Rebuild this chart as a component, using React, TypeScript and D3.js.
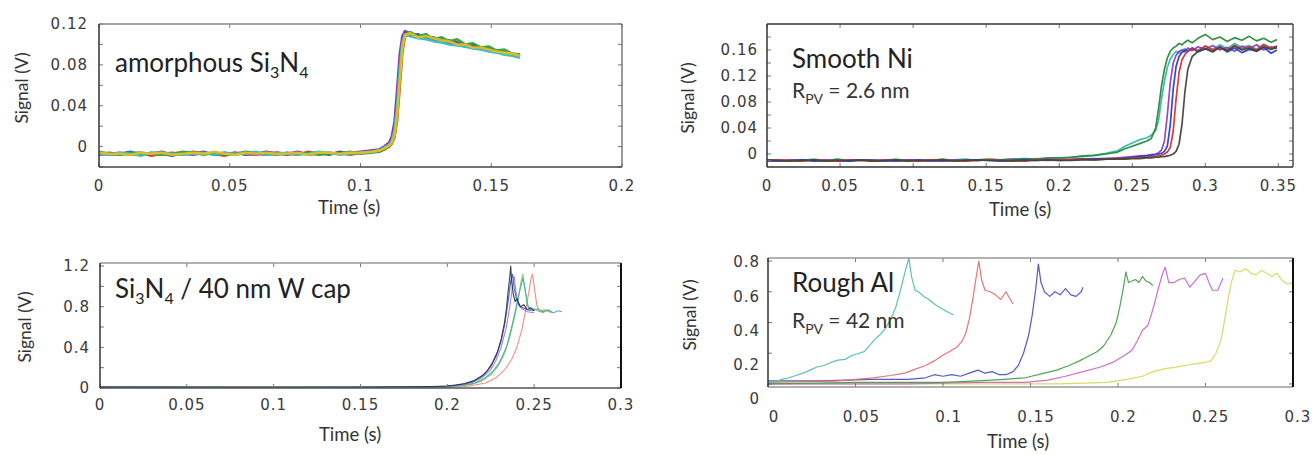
import React from "react";
import * as d3 from "d3";

const WIDTH = 1312;
const HEIGHT = 455;

type Pt = [number, number];

// ---------- amorphous Si3N4 (top left): shared time base (s), signals in mV
const T_SIN = [0, 0.004, 0.008, 0.012, 0.016, 0.02, 0.024, 0.028, 0.032, 0.036, 0.04, 0.044, 0.048, 0.052, 0.056, 0.06, 0.064, 0.068, 0.072, 0.076, 0.08, 0.084, 0.088, 0.092, 0.096, 0.1, 0.104,
  0.107, 0.109, 0.111, 0.112, 0.113, 0.114, 0.115, 0.116, 0.117,
  0.119, 0.122, 0.125, 0.128, 0.131, 0.134, 0.137, 0.14, 0.143, 0.146, 0.149, 0.152, 0.155, 0.158, 0.161];
const SIN_BLUE = [-6, -8, -7, -5, -8, -6, -7, -9, -6, -7, -5, -8, -7, -6, -8, -7, -5, -7, -8, -6, -7, -6, -8, -5, -7, -6, -5,
  -4, -2, 1, 5, 14, 38, 72, 100, 111,
  109, 110, 106, 107, 103, 104, 101, 99, 100, 96, 95, 94, 92, 91, 89];
const SIN_RED = [-7, -6, -8, -7, -6, -9, -7, -6, -8, -5, -7, -7, -9, -6, -7, -8, -6, -6, -7, -8, -5, -7, -7, -6, -8, -6, -4,
  -5, -3, 0, 3, 9, 26, 58, 92, 108,
  110, 107, 108, 104, 105, 101, 100, 98, 97, 97, 94, 93, 93, 90, 88];
const SIN_PURPLE = [-8, -7, -6, -8, -7, -7, -5, -8, -7, -8, -6, -7, -6, -8, -6, -7, -8, -6, -7, -5, -8, -7, -6, -7, -6, -5, -4,
  -3, 0, 4, 10, 24, 55, 90, 108, 113,
  111, 108, 107, 105, 104, 102, 102, 99, 98, 96, 96, 93, 92, 90, 90];
const SIN_GREEN = [-5, -7, -8, -6, -6, -7, -8, -7, -5, -6, -8, -6, -8, -7, -5, -6, -7, -8, -6, -7, -6, -8, -7, -7, -5, -7, -6,
  -5, -3, 1, 4, 12, 32, 66, 97, 110,
  112, 108, 110, 105, 107, 103, 105, 100, 101, 97, 98, 94, 95, 91, 90];
const SIN_CYAN = [-7, -8, -6, -7, -9, -6, -6, -7, -8, -7, -6, -8, -6, -7, -7, -5, -8, -7, -6, -8, -7, -5, -6, -8, -7, -6, -5,
  -4, -1, 2, 6, 16, 40, 76, 102, 110,
  108, 106, 105, 103, 102, 100, 99, 98, 96, 95, 93, 92, 90, 89, 87];
const SIN_YELLOW = [-6, -7, -7, -8, -6, -7, -6, -8, -7, -6, -7, -5, -7, -8, -6, -7, -6, -7, -7, -6, -8, -6, -6, -7, -6, -6, -5,
  -4, -2, 1, 4, 11, 30, 64, 96, 109,
  111, 107, 108, 106, 104, 103, 100, 100, 97, 97, 95, 93, 92, 91, 89];

// ---------- Smooth Ni (top right): shared time base (s), signals in mV
const T_NI = [0, 0.008, 0.016, 0.024, 0.032, 0.04, 0.048, 0.056, 0.064, 0.072, 0.08, 0.088, 0.096, 0.104, 0.112, 0.12, 0.128, 0.136, 0.144, 0.152, 0.16, 0.168, 0.176, 0.184, 0.192, 0.2, 0.208, 0.216, 0.224, 0.232, 0.24,
  0.245, 0.25, 0.255, 0.26, 0.263, 0.266, 0.268, 0.27, 0.272, 0.274, 0.276, 0.278, 0.28, 0.282, 0.284, 0.286, 0.288, 0.291, 0.295, 0.3, 0.305, 0.31, 0.315, 0.32, 0.325, 0.33, 0.335, 0.34, 0.345, 0.349];
const NI_CYAN = [-10, -9, -11, -10, -8, -10, -9, -11, -10, -9, -10, -8, -10, -11, -9, -10, -9, -8, -10, -9, -9, -8, -9, -7, -8, -7, -5, -4, -2, 1, 5,
  12, 17, 22, 25, 29, 36, 52, 85, 112, 133, 146, 153, 158, 155, 160, 162, 158, 163, 160, 166, 161, 168, 162, 170, 164, 167, 161, 169, 163, 166];
const NI_GREEN = [-9, -11, -10, -9, -10, -11, -8, -10, -9, -10, -11, -9, -9, -10, -10, -8, -10, -9, -9, -8, -9, -8, -7, -8, -6, -6, -5, -3, -2, 0, 3,
  8, 12, 16, 20, 24, 40, 70, 105, 130, 148, 158, 163, 166, 170, 168, 172, 175, 171, 178, 184, 176, 180, 173, 179, 175, 181, 174, 178, 172, 176];
const NI_PURPLE = [-10, -11, -9, -10, -10, -9, -11, -10, -10, -9, -11, -10, -9, -10, -11, -10, -9, -10, -10, -9, -10, -9, -10, -9, -8, -9, -8, -8, -7, -7, -6,
  -5, -4, -3, -2, -1, 0, 2, 6, 20, 60, 110, 140, 152, 158, 160, 157, 163, 159, 165, 161, 167, 160, 164, 158, 166, 162, 168, 160, 165, 163];
const NI_BLUE = [-11, -10, -10, -9, -11, -10, -10, -11, -9, -10, -10, -11, -10, -9, -10, -11, -10, -10, -9, -10, -11, -10, -9, -10, -9, -10, -9, -8, -8, -7, -7,
  -6, -5, -4, -3, -2, -1, 0, 1, 4, 12, 45, 100, 135, 150, 156, 160, 158, 163, 157, 162, 158, 165, 157, 163, 156, 161, 158, 164, 155, 160];
const NI_RED = [-10, -9, -10, -11, -9, -10, -11, -9, -10, -11, -9, -10, -10, -11, -9, -10, -10, -11, -10, -9, -10, -10, -11, -9, -10, -9, -9, -8, -9, -8, -7,
  -7, -6, -6, -5, -4, -4, -3, -2, 0, 3, 10, 35, 85, 125, 145, 153, 158, 162, 158, 166, 160, 164, 159, 167, 161, 165, 160, 168, 162, 166];
const NI_DARK = [-9, -10, -11, -10, -9, -11, -10, -10, -9, -11, -10, -9, -11, -10, -10, -9, -11, -10, -9, -10, -10, -11, -10, -10, -9, -10, -10, -9, -9, -8, -8,
  -8, -7, -7, -6, -6, -5, -5, -4, -4, -3, -2, 0, 4, 15, 45, 95, 130, 150, 158, 162, 157, 164, 159, 166, 160, 163, 158, 165, 161, 164];

// ---------- Si3N4 / 40 nm W cap (bottom left): [time s, signal V]
const W_DARK: Pt[] = [[0, 0.01], [0.05, 0.01], [0.1, 0.01], [0.15, 0.01], [0.19, 0.015], [0.2, 0.02], [0.205, 0.03], [0.21, 0.045], [0.215, 0.07], [0.22, 0.12], [0.223, 0.17], [0.226, 0.25], [0.229, 0.36], [0.231, 0.48], [0.233, 0.65], [0.234, 0.78], [0.235, 0.95], [0.236, 1.1], [0.2365, 1.2], [0.237, 1.05], [0.238, 0.92], [0.239, 0.85], [0.24, 0.88], [0.242, 0.8], [0.244, 0.82], [0.246, 0.77], [0.248, 0.79], [0.25, 0.76]];
const W_PURPLE: Pt[] = [[0, 0.005], [0.1, 0.005], [0.19, 0.01], [0.2, 0.015], [0.21, 0.035], [0.215, 0.06], [0.22, 0.1], [0.225, 0.18], [0.228, 0.27], [0.231, 0.4], [0.234, 0.6], [0.236, 0.8], [0.2375, 1.0], [0.2385, 1.1], [0.2395, 0.95], [0.241, 0.82], [0.243, 0.78], [0.246, 0.75], [0.25, 0.74]];
const W_BLUE: Pt[] = [[0, 0.01], [0.1, 0.005], [0.19, 0.01], [0.2, 0.02], [0.21, 0.04], [0.216, 0.07], [0.221, 0.13], [0.225, 0.21], [0.228, 0.31], [0.231, 0.46], [0.233, 0.62], [0.235, 0.85], [0.2365, 1.05], [0.2375, 1.12], [0.2385, 0.98], [0.24, 0.86], [0.242, 0.8], [0.245, 0.78], [0.248, 0.76]];
const W_GREEN: Pt[] = [[0, 0.005], [0.1, 0.01], [0.19, 0.005], [0.2, 0.01], [0.21, 0.025], [0.215, 0.04], [0.22, 0.07], [0.225, 0.13], [0.229, 0.21], [0.233, 0.34], [0.236, 0.5], [0.239, 0.72], [0.241, 0.9], [0.2425, 1.05], [0.2435, 1.12], [0.2445, 1.0], [0.246, 0.82], [0.248, 0.77], [0.25, 0.78], [0.253, 0.75], [0.256, 0.77], [0.26, 0.75]];
const W_TEAL: Pt[] = [[0, 0.01], [0.1, 0.005], [0.19, 0.01], [0.2, 0.012], [0.21, 0.03], [0.216, 0.05], [0.221, 0.09], [0.226, 0.16], [0.23, 0.25], [0.234, 0.4], [0.237, 0.6], [0.24, 0.82], [0.242, 0.98], [0.2435, 1.08], [0.245, 0.95], [0.2465, 0.8], [0.249, 0.76], [0.252, 0.78], [0.255, 0.75], [0.258, 0.77], [0.261, 0.74], [0.264, 0.76], [0.266, 0.75]];
const W_SALMON: Pt[] = [[0, 0.01], [0.1, 0.01], [0.19, 0.005], [0.2, 0.008], [0.21, 0.015], [0.216, 0.03], [0.222, 0.05], [0.228, 0.1], [0.233, 0.18], [0.237, 0.28], [0.24, 0.4], [0.243, 0.58], [0.245, 0.76], [0.247, 0.95], [0.248, 1.06], [0.249, 1.12], [0.25, 1.0], [0.2515, 0.82], [0.253, 0.76], [0.255, 0.74], [0.257, 0.76], [0.26, 0.74]];

// ---------- Rough Al (bottom right): [time s, signal V]
const AL_CYAN: Pt[] = [[0, 0.01], [0.004, 0.015], [0.008, 0.03], [0.012, 0.04], [0.016, 0.055], [0.02, 0.07], [0.024, 0.09], [0.028, 0.11], [0.032, 0.12], [0.036, 0.14], [0.04, 0.155], [0.044, 0.16], [0.048, 0.185], [0.052, 0.2], [0.055, 0.21], [0.058, 0.25], [0.061, 0.29], [0.064, 0.32], [0.067, 0.36], [0.07, 0.42], [0.073, 0.5], [0.075, 0.58], [0.077, 0.67], [0.079, 0.76], [0.0805, 0.82], [0.082, 0.7], [0.084, 0.61], [0.086, 0.6], [0.089, 0.57], [0.092, 0.55], [0.095, 0.52], [0.098, 0.5], [0.101, 0.48], [0.104, 0.46], [0.106, 0.45]];
const AL_RED: Pt[] = [[0, 0.01], [0.02, 0.015], [0.04, 0.02], [0.05, 0.03], [0.06, 0.04], [0.07, 0.055], [0.078, 0.07], [0.085, 0.1], [0.09, 0.12], [0.095, 0.15], [0.099, 0.18], [0.102, 0.2], [0.105, 0.22], [0.108, 0.24], [0.111, 0.28], [0.113, 0.33], [0.115, 0.42], [0.117, 0.55], [0.119, 0.7], [0.1205, 0.8], [0.122, 0.68], [0.124, 0.61], [0.127, 0.6], [0.13, 0.58], [0.133, 0.55], [0.136, 0.6], [0.138, 0.56], [0.14, 0.52]];
const AL_BLUE: Pt[] = [[0, 0.02], [0.03, 0.02], [0.06, 0.03], [0.08, 0.03], [0.09, 0.04], [0.095, 0.06], [0.1, 0.05], [0.105, 0.06], [0.11, 0.05], [0.115, 0.07], [0.12, 0.09], [0.124, 0.07], [0.128, 0.08], [0.132, 0.06], [0.136, 0.06], [0.14, 0.08], [0.143, 0.12], [0.146, 0.2], [0.149, 0.32], [0.151, 0.45], [0.153, 0.62], [0.1545, 0.78], [0.156, 0.66], [0.158, 0.6], [0.161, 0.57], [0.164, 0.6], [0.167, 0.58], [0.17, 0.62], [0.173, 0.58], [0.176, 0.57], [0.179, 0.6], [0.18, 0.63]];
const AL_GREEN: Pt[] = [[0, 0.0], [0.05, 0.01], [0.1, 0.01], [0.12, 0.02], [0.135, 0.03], [0.147, 0.04], [0.158, 0.07], [0.165, 0.09], [0.172, 0.12], [0.178, 0.15], [0.183, 0.18], [0.188, 0.21], [0.192, 0.25], [0.196, 0.32], [0.199, 0.4], [0.201, 0.5], [0.203, 0.62], [0.2045, 0.73], [0.206, 0.66], [0.208, 0.67], [0.21, 0.68], [0.212, 0.66], [0.214, 0.7], [0.216, 0.67], [0.218, 0.66], [0.22, 0.64]];
const AL_MAGENTA: Pt[] = [[0, 0.0], [0.08, 0.0], [0.12, 0.01], [0.147, 0.01], [0.16, 0.025], [0.17, 0.05], [0.18, 0.08], [0.19, 0.11], [0.197, 0.14], [0.203, 0.18], [0.208, 0.22], [0.211, 0.28], [0.214, 0.35], [0.217, 0.38], [0.219, 0.45], [0.221, 0.53], [0.223, 0.62], [0.2255, 0.72], [0.227, 0.76], [0.229, 0.66], [0.232, 0.66], [0.235, 0.68], [0.238, 0.69], [0.241, 0.63], [0.244, 0.67], [0.247, 0.71], [0.25, 0.72], [0.252, 0.66], [0.254, 0.61], [0.257, 0.61], [0.26, 0.69]];
const AL_YELLOW: Pt[] = [[0, 0.0], [0.1, 0.0], [0.15, 0.0], [0.166, 0.0], [0.18, 0.005], [0.194, 0.01], [0.205, 0.03], [0.214, 0.05], [0.22, 0.08], [0.227, 0.1], [0.233, 0.11], [0.238, 0.12], [0.244, 0.13], [0.25, 0.14], [0.253, 0.15], [0.256, 0.2], [0.259, 0.29], [0.261, 0.42], [0.263, 0.56], [0.265, 0.67], [0.267, 0.74], [0.27, 0.73], [0.273, 0.75], [0.276, 0.72], [0.279, 0.71], [0.282, 0.74], [0.285, 0.72], [0.288, 0.7], [0.291, 0.72], [0.294, 0.67], [0.297, 0.65], [0.3, 0.66]];

// ---------- axis ticks
const X_TICKS_SIN = [0, 0.05, 0.1, 0.15, 0.2];
const Y_TICKS_SIN = [0, 0.04, 0.08, 0.12];
const Y_MINOR_SIN = [-0.02, 0.02, 0.06, 0.1];
const X_TICKS_NI = [0, 0.05, 0.1, 0.15, 0.2, 0.25, 0.3, 0.35];
const Y_TICKS_NI = [0, 0.04, 0.08, 0.12, 0.16];
const Y_MINOR_NI = [-0.01, 0.02, 0.06, 0.1, 0.14, 0.18];
const X_TICKS_W = [0, 0.05, 0.1, 0.15, 0.2, 0.25, 0.3];
const Y_TICKS_W = [0, 0.4, 0.8, 1.2];
const Y_MINOR_W = [0.2, 0.6, 1.0];
const X_TICKS_AL = [0, 0.05, 0.1, 0.15, 0.2, 0.25, 0.3];
const Y_TICKS_AL = [0, 0.2, 0.4, 0.6, 0.8];

const grid = (t: number[], mv: number[]): Pt[] => t.map((x, i) => [x, mv[i] / 1000]);

const TICK_FONT = "'DejaVu Sans', Verdana, sans-serif";
const TEXT_FONT = "Lato, 'Open Sans', sans-serif";

interface Series { color: string; points: Pt[] }

interface PanelProps {
  id: string;
  box: [number, number, number, number];
  xDomain: [number, number];
  yDomain: [number, number];
  xTicks: number[];
  yTicks: number[];
  yMinor: number[];
  series: Series[];
  lineWidth: number;
  xLabelY: number;
  yLabelX: number;
  xLabelRange?: [number, number];
  yLabelRange?: [number, number];
  timePos: [number, number];
  signalPos: [number, number];
  edge: { top: string; right: string; bottom: string; left: string; rightW?: number };
  children?: React.ReactNode;
}

function Panel(p: PanelProps) {
  const [l, t, r, b] = p.box;
  const x = d3.scaleLinear().domain(p.xDomain).range([l, r]);
  const y = d3.scaleLinear().domain(p.yDomain).range([b, t]);
  // the Rough Al panel has its tick labels printed a little off the tick marks
  const xLab = p.xLabelRange ? d3.scaleLinear().domain([0, 0.3]).range(p.xLabelRange) : x;
  const yLab = p.yLabelRange ? d3.scaleLinear().domain([0, 0.8]).range(p.yLabelRange) : y;
  const line = d3.line<Pt>().x(d => x(d[0])).y(d => y(d[1]));
  const tk = 4;
  const yAll = [...p.yTicks, ...p.yMinor];

  return (
    <g>
      <clipPath id={p.id}>
        <rect x={l} y={t} width={r - l} height={b - t} />
      </clipPath>
      <g clipPath={`url(#${p.id})`}>
        {p.series.map((s, i) => (
          <path key={i} d={line(s.points) ?? ""} fill="none" stroke={s.color}
            strokeWidth={p.lineWidth} strokeLinejoin="round" strokeOpacity={0.95} />
        ))}
      </g>
      <g stroke="#777" strokeWidth={1}>
        {p.xTicks.map(v => (
          <g key={v}>
            <line x1={x(v)} x2={x(v)} y1={t} y2={t + tk} />
            <line x1={x(v)} x2={x(v)} y1={b} y2={b - tk} />
          </g>
        ))}
        {yAll.map(v => (
          <g key={v}>
            <line x1={l} x2={l + tk} y1={y(v)} y2={y(v)} />
            <line x1={r} x2={r - tk} y1={y(v)} y2={y(v)} />
          </g>
        ))}
      </g>
      <line x1={l} x2={r} y1={t} y2={t} stroke={p.edge.top} strokeWidth={1.3} />
      <line x1={l} x2={r} y1={b} y2={b} stroke={p.edge.bottom} strokeWidth={1.3} />
      <line x1={l} x2={l} y1={t} y2={b} stroke={p.edge.left} strokeWidth={1.5} />
      <line x1={r} x2={r} y1={t} y2={b} stroke={p.edge.right} strokeWidth={p.edge.rightW ?? 1.3} />
      <g fontFamily={TICK_FONT} fontSize={15} fill="#3a3a3a" letterSpacing={1}>
        {p.xTicks.map(v => (
          <text key={v} x={xLab(v)} y={p.xLabelY} textAnchor="middle">{String(v)}</text>
        ))}
        {p.yTicks.map(v => (
          <text key={v} x={p.yLabelX} y={yLab(v)} dy="0.36em" textAnchor="end">{String(v)}</text>
        ))}
      </g>
      <g fontFamily={TEXT_FONT} fill="#333">
        <text x={p.timePos[0]} y={p.timePos[1]} textAnchor="middle" dy="0.35em" fontSize={18.5}>Time (s)</text>
        <text transform={`translate(${p.signalPos[0]},${p.signalPos[1]}) rotate(-90)`} textAnchor="middle"
          dy="0.35em" fontSize={17.5}>Signal (V)</text>
      </g>
      {p.children}
    </g>
  );
}

const Sub = ({ children, size = 16 }: { children: React.ReactNode; size?: number }) => (
  <tspan dy={6} fontSize={size}>{children}</tspan>
);

export default function App() {
  const sinSeries: Series[] = [
    { color: "#3050d0", points: grid(T_SIN, SIN_BLUE) },
    { color: "#e03030", points: grid(T_SIN, SIN_RED) },
    { color: "#8030b0", points: grid(T_SIN, SIN_PURPLE) },
    { color: "#30a040", points: grid(T_SIN, SIN_GREEN) },
    { color: "#30c0c8", points: grid(T_SIN, SIN_CYAN) },
    { color: "#e0c020", points: grid(T_SIN, SIN_YELLOW) },
  ];
  const niSeries: Series[] = [
    { color: "#30b8b0", points: grid(T_NI, NI_CYAN) },
    { color: "#2a8a3a", points: grid(T_NI, NI_GREEN) },
    { color: "#9040c0", points: grid(T_NI, NI_PURPLE) },
    { color: "#2040d0", points: grid(T_NI, NI_BLUE) },
    { color: "#d83030", points: grid(T_NI, NI_RED) },
    { color: "#404838", points: grid(T_NI, NI_DARK) },
  ];
  const wSeries: Series[] = [
    { color: "#f08a78", points: W_SALMON },
    { color: "#80c878", points: W_GREEN },
    { color: "#48b0a0", points: W_TEAL },
    { color: "#a878d8", points: W_PURPLE },
    { color: "#4860b8", points: W_BLUE },
    { color: "#283848", points: W_DARK },
  ];
  const alSeries: Series[] = [
    { color: "#d8d860", points: AL_YELLOW },
    { color: "#c868c8", points: AL_MAGENTA },
    { color: "#48a048", points: AL_GREEN },
    { color: "#5050c0", points: AL_BLUE },
    { color: "#e07070", points: AL_RED },
    { color: "#50c0b0", points: AL_CYAN },
  ];

  return (
    <svg width={WIDTH} height={HEIGHT} viewBox={`0 0 ${WIDTH} ${HEIGHT}`}
      style={{ position: "absolute", left: 0, top: 0, background: "#fff" }}>
      <rect width={WIDTH} height={HEIGHT} fill="#fff" />

      <Panel id="clip-sin" box={[99, 24, 622, 167]} xDomain={[0, 0.2]} yDomain={[-0.02, 0.12]}
        xTicks={X_TICKS_SIN} yTicks={Y_TICKS_SIN} yMinor={Y_MINOR_SIN} series={sinSeries} lineWidth={2.6}
        xLabelY={191} yLabelX={88} timePos={[349, 208]} signalPos={[22, 88]}
        edge={{ top: "#888", right: "#666", bottom: "#444", left: "#333" }}>
        <text x={115} y={72} fontFamily={TEXT_FONT} fontSize={26} fill="#222">
          amorphous Si<Sub>3</Sub><tspan dy={-6}>N</tspan><Sub>4</Sub>
        </text>
      </Panel>

      <Panel id="clip-ni" box={[767, 24, 1293, 167]} xDomain={[0, 0.36]} yDomain={[-0.02, 0.2]}
        xTicks={X_TICKS_NI} yTicks={Y_TICKS_NI} yMinor={Y_MINOR_NI} series={niSeries} lineWidth={1.7}
        xLabelY={191} yLabelX={758} timePos={[1020, 210]} signalPos={[688, 98]}
        edge={{ top: "#333", right: "#333", bottom: "#333", left: "#333" }}>
        <text x={792} y={68} fontFamily={TEXT_FONT} fontSize={26} fill="#222">Smooth Ni</text>
        <text x={792} y={98} fontFamily={TEXT_FONT} fontSize={21} fill="#333">
          R<Sub size={14}>PV</Sub><tspan dy={-6}> = 2.6 nm</tspan>
        </text>
      </Panel>

      <Panel id="clip-w" box={[100, 263, 621, 388]} xDomain={[0, 0.3]} yDomain={[0, 1.23]}
        xTicks={X_TICKS_W} yTicks={Y_TICKS_W} yMinor={Y_MINOR_W} series={wSeries} lineWidth={1.1}
        xLabelY={410} yLabelX={90} timePos={[350, 435]} signalPos={[25, 327]}
        edge={{ top: "#999", right: "#111", bottom: "#555", left: "#333", rightW: 2 }}>
        <text x={115} y={298} fontFamily={TEXT_FONT} fontSize={26} fill="#222">
          Si<Sub>3</Sub><tspan dy={-6}>N</tspan><Sub>4</Sub><tspan dy={-6}> / 40 nm W cap</tspan>
        </text>
      </Panel>

      <Panel id="clip-al" box={[768, 258, 1293, 387]} xDomain={[0, 0.3]} yDomain={[-0.02, 0.82]}
        xTicks={X_TICKS_AL} yTicks={Y_TICKS_AL} yMinor={[]} series={alSeries} lineWidth={1.2}
        xLabelY={422} yLabelX={760} xLabelRange={[774, 1298]} yLabelRange={[399, 262]}
        timePos={[1018, 442]} signalPos={[690, 315]}
        edge={{ top: "#999", right: "#111", bottom: "#999", left: "#333", rightW: 2 }}>
        <text x={792} y={292} fontFamily={TEXT_FONT} fontSize={26} fill="#222">Rough Al</text>
        <text x={792} y={328} fontFamily={TEXT_FONT} fontSize={21} fill="#333">
          R<Sub size={14}>PV</Sub><tspan dy={-6}> = 42 nm</tspan>
        </text>
      </Panel>
    </svg>
  );
}
